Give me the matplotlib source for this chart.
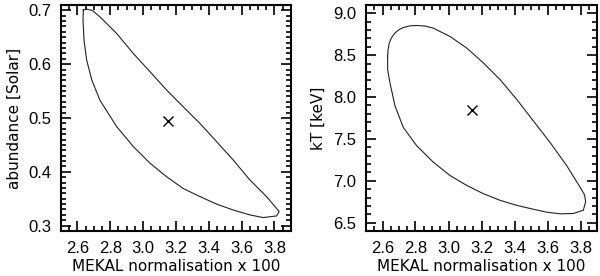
import matplotlib
matplotlib.use("Agg")
import matplotlib.pyplot as plt
from matplotlib.ticker import MultipleLocator

plt.rcParams["font.family"] = ["Liberation Sans", "DejaVu Sans"]

# confidence contour: normalisation vs abundance
norm_abund = [2.636, 2.660, 2.690, 2.737, 2.839, 2.940, 3.042, 3.143, 3.244, 3.346,
              3.448, 3.549, 3.650, 3.752, 3.813, 3.829, 3.813, 3.731, 3.650, 3.549,
              3.448, 3.346, 3.244, 3.143, 3.042, 2.940, 2.839, 2.737, 2.687, 2.656,
              2.640, 2.634, 2.636]
abund = [0.701, 0.702, 0.700, 0.688, 0.657, 0.620, 0.586, 0.552, 0.521, 0.490,
         0.456, 0.422, 0.385, 0.354, 0.332, 0.326, 0.318, 0.315, 0.320, 0.329,
         0.340, 0.354, 0.369, 0.391, 0.416, 0.447, 0.484, 0.533, 0.571, 0.608,
         0.645, 0.682, 0.701]

# confidence contour: normalisation vs temperature
norm_kt = [2.631, 2.634, 2.641, 2.655, 2.675, 2.700, 2.726, 2.765, 2.807, 2.860,
           2.908, 3.009, 3.110, 3.211, 3.312, 3.413, 3.514, 3.615, 3.716, 3.797,
           3.825, 3.831, 3.817, 3.756, 3.676, 3.595, 3.514, 3.413, 3.312, 3.211,
           3.110, 3.009, 2.908, 2.807, 2.726, 2.676, 2.645, 2.631, 2.631]
kt = [8.487, 8.570, 8.645, 8.710, 8.764, 8.805, 8.830, 8.850, 8.855, 8.848,
      8.823, 8.724, 8.586, 8.408, 8.210, 7.973, 7.716, 7.459, 7.182, 6.925,
      6.830, 6.748, 6.648, 6.609, 6.605, 6.625, 6.660, 6.707, 6.767, 6.846,
      6.945, 7.063, 7.222, 7.419, 7.637, 7.894, 8.171, 8.329, 8.487]

best_norm = [3.15, 3.145]
best_abund = 0.495
best_kt = 7.85

fig = plt.figure(figsize=(6.0, 2.76), dpi=100)
ax1 = fig.add_axes([0.1017, 0.163, 0.383, 0.819])
ax2 = fig.add_axes([0.61, 0.163, 0.385, 0.819])

label_font = dict(family="DejaVu Sans", fontsize=11)


def style(ax, ymajor, yminor):
    ax.xaxis.set_major_locator(MultipleLocator(0.2))
    ax.xaxis.set_minor_locator(MultipleLocator(0.05))
    ax.yaxis.set_major_locator(MultipleLocator(ymajor))
    ax.yaxis.set_minor_locator(MultipleLocator(yminor))
    ax.tick_params(which="both", direction="in", top=True, right=True,
                   labelsize=12, width=1.2, pad=7)
    ax.tick_params(which="major", length=7)
    ax.tick_params(which="minor", length=3.5)
    for s in ax.spines.values():
        s.set_linewidth(1.5)
    ax.set_xlabel("MEKAL normalisation x 100", labelpad=2, **label_font)


ax1.plot(norm_abund, abund, color="#222222", lw=0.8)
ax1.plot(best_norm[0], best_abund, marker="x", color="black", ms=6.5, mew=1.0)
ax1.set_xlim(2.5, 3.9)
ax1.set_ylim(0.29, 0.71)
style(ax1, 0.1, 0.01)
ax1.set_ylabel("abundance [Solar]", labelpad=5, **label_font)

ax2.plot(norm_kt, kt, color="#222222", lw=0.8)
ax2.plot(best_norm[1], best_kt, marker="x", color="black", ms=6.5, mew=1.0)
ax2.set_xlim(2.5, 3.9)
ax2.set_ylim(6.4, 9.1)
style(ax2, 0.5, 0.1)
ax2.set_ylabel("kT [keV]", labelpad=5, **label_font)

plt.savefig("out.png", dpi=100)
